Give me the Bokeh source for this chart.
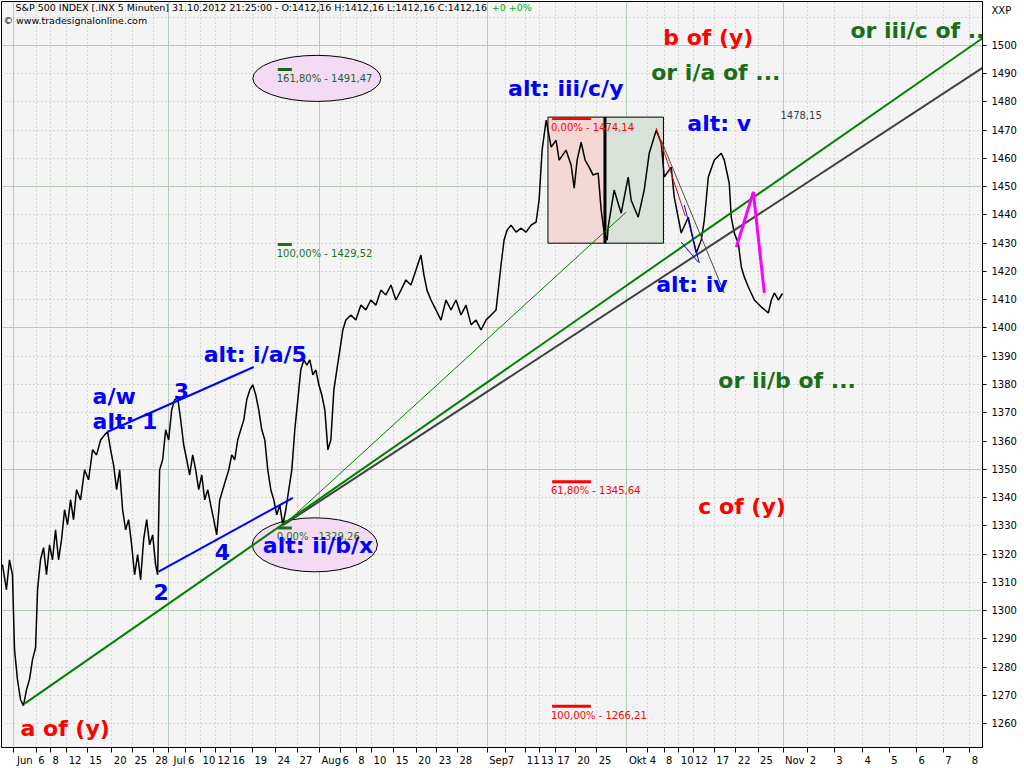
from bokeh.plotting import figure
from bokeh.models import Range1d, FixedTicker, Grid, Label
from bokeh.embed import file_html
from bokeh.resources import INLINE

# ---------------- data ----------------
# x = session position (trading days counted from 1 Jun 2012), y = S&P 500 level
price_t = [-1.49, -0.95, -0.54, -0.14, 0.14, 0.54, 0.95, 1.35, 1.76, 2.16, 2.57, 2.98, 3.25, 3.65, 4.06,
           4.46, 4.87, 5.27, 5.68, 6.09, 6.49, 6.90, 7.30, 7.71, 8.11, 8.52, 9.06, 9.60, 10.14, 10.68,
           11.22, 11.77, 12.31, 12.71, 13.12, 13.52, 13.93, 14.34, 14.74, 15.15, 15.55, 15.96, 16.36,
           16.77, 17.17, 17.58, 17.99, 18.39, 18.80, 19.20, 19.47, 19.74, 20.15, 20.56, 20.96, 21.37,
           21.77, 22.18, 22.59, 22.99, 23.40, 23.80, 24.21, 24.61, 25.02, 25.43, 25.83, 26.24, 26.64,
           27.05, 27.45, 27.86, 28.27, 28.67, 29.08, 29.48, 29.89, 30.29, 30.70, 31.11, 31.51, 31.92,
           32.32, 32.73, 33.13, 33.54, 33.95, 34.35, 34.76, 35.16, 35.57, 35.97, 36.38, 36.79, 37.19,
           37.60, 38.00, 38.41, 38.81, 39.22, 39.63, 40.03, 40.44, 40.84, 41.25, 41.65, 42.06, 42.47,
           42.87, 43.28, 43.68, 44.09, 44.49, 44.90, 45.58, 46.25, 46.93, 47.60, 48.28, 48.96, 49.63,
           50.31, 50.99, 51.66, 52.34, 53.01, 53.69, 54.37, 55.04, 55.45, 55.86, 56.40, 57.07, 57.75,
           58.42, 59.10, 59.78, 60.45, 61.13, 61.81, 62.48, 63.16, 63.83, 64.51, 65.19, 65.86, 66.27,
           66.67, 67.21, 67.89, 68.57, 69.24, 69.92, 70.60, 71.00, 71.41, 71.95, 72.63, 73.30, 73.71,
           74.65, 75.33, 75.74, 76.14, 76.68, 77.22, 77.76, 78.30, 78.98, 79.39, 79.79, 80.20, 80.33,
           81.14, 82.09, 83.04, 83.44, 84.39, 85.20, 85.88, 86.83, 87.50, 87.91, 88.85, 89.26, 90.20,
           91.15, 91.83, 92.23, 92.91, 93.32, 93.86, 94.67, 95.61, 96.02, 96.69, 96.96, 97.37, 97.91,
           98.32, 98.73, 99.27, 100.08, 101.03, 101.97, 102.38, 102.79, 103.33, 103.87]
price_v = [1316.3, 1307.4, 1318.0, 1312.7, 1286.2, 1275.6, 1268.5, 1266.4, 1272.1, 1275.6, 1282.7, 1286.9,
           1307.4, 1318.0, 1322.3, 1312.7, 1323.3, 1318.0, 1328.6, 1318.0, 1325.1, 1335.7, 1330.4, 1339.2,
           1332.2, 1342.8, 1339.2, 1349.8, 1346.3, 1356.9, 1355.1, 1360.4, 1362.2, 1363.3, 1356.9, 1351.6,
           1342.8, 1349.8, 1335.7, 1328.6, 1332.2, 1323.3, 1312.7, 1319.8, 1310.9, 1325.1, 1332.2, 1323.3,
           1326.8, 1316.3, 1312.7, 1349.8, 1353.4, 1364.0, 1360.4, 1371.0, 1374.6, 1375.3, 1367.5, 1358.7,
           1353.4, 1348.0, 1355.1, 1349.8, 1342.8, 1348.0, 1339.2, 1342.8, 1337.4, 1332.2, 1326.8, 1339.2,
           1342.8, 1346.3, 1349.8, 1355.1, 1353.4, 1360.4, 1364.0, 1367.5, 1374.6, 1378.1, 1379.9, 1376.3,
           1371.0, 1364.0, 1360.4, 1349.8, 1342.8, 1339.2, 1333.9, 1337.4, 1330.4, 1335.7, 1342.8, 1349.8,
           1364.0, 1374.6, 1385.2, 1388.7, 1386.9, 1388.7, 1383.4, 1385.2, 1379.9, 1376.3, 1371.0, 1356.9,
           1360.4, 1378.1, 1385.2, 1392.2, 1399.3, 1402.8, 1404.6, 1402.8, 1408.1, 1406.4, 1409.9, 1408.1,
           1413.4, 1411.7, 1415.2, 1409.9, 1413.4, 1417.0, 1415.2, 1420.5, 1425.8, 1418.7, 1413.4, 1409.9,
           1406.4, 1402.8, 1409.9, 1406.4, 1409.9, 1404.6, 1408.1, 1401.1, 1402.8, 1399.3, 1402.8, 1404.6,
           1406.4, 1422.3, 1431.1, 1434.6, 1436.4, 1433.9, 1435.3, 1433.9, 1436.4, 1437.5, 1445.2, 1462.9,
           1473.5, 1464.0, 1466.4, 1459.4, 1462.9, 1457.6, 1449.5, 1459.4, 1465.7, 1459.4, 1456.9, 1454.1,
           1454.8, 1441.7, 1433.6, 1431.1, 1435.7, 1448.8, 1440.6, 1453.4, 1445.2, 1439.2, 1448.8, 1461.8,
           1470.0, 1465.4, 1453.4, 1456.9, 1446.3, 1433.6, 1439.2, 1431.1, 1426.5, 1431.1, 1438.2, 1453.4,
           1459.4, 1461.8, 1459.4, 1451.2, 1439.2, 1433.6, 1430.0, 1421.6, 1418.0, 1414.5, 1409.9, 1407.4,
           1405.3, 1409.9, 1412.4, 1409.9, 1412.2]

tick_labels = ["Jun", "6", "8", "12", "15", "20", "25", "28", "Jul", "6", "10", "12", "16", "19", "24", "27",
               "Aug", "6", "8", "10", "15", "20", "23", "28", "Sep", "7", "11", "13", "17", "20", "25",
               "Okt", "4", "8", "10", "12", "17", "22", "25", "Nov", "2", "3", "4", "5", "6", "7", "8"]
tick_pos = [0.0, 3.1, 5.0, 7.2, 10.0, 13.3, 16.1, 18.9, 20.9, 23.3, 25.3, 27.3, 29.3, 32.3, 35.4, 38.4,
            41.4, 44.2, 46.3, 48.4, 51.4, 54.4, 57.2, 60.0, 64.0, 66.5, 69.1, 71.0, 73.2, 75.9, 78.8,
            82.8, 85.7, 87.9, 89.9, 91.8, 94.7, 97.6, 100.6, 104.0, 107.3, 110.9, 114.7, 118.3, 122.0,
            125.6, 129.2]
month_names = ["Jun", "Jul", "Aug", "Sep", "Okt", "Nov"]
y_ticks = list(range(1260, 1510, 10))
symbol_name, symbol_level = "XXP", 1512.4

# trend lines (start/end in session position and level)
green_trend_t, green_trend_v = [1.5, 130.9], [1267.1, 1502.5]
gray_trend_t, gray_trend_v = [36.5, 130.9], [1330.4, 1492.0]
thin_green_t, thin_green_v = [36.25, 82.77], [1329.7, 1441.0]
blue_up_t, blue_up_v = [12.71, 32.46], [1363.3, 1386.2]
blue_lo_t, blue_lo_v = [19.61, 37.73], [1313.8, 1339.9]
red_thin_t, red_thin_v = [86.83, 90.75], [1470.7, 1439.6]
gray_thin_t, gray_thin_v = [87.5, 96.02], [1466.4, 1412.4]
blue_thin1_t, blue_thin1_v = [90.61, 92.64], [1443.5, 1423.0]
blue_thin2_t, blue_thin2_v = [90.2, 92.5], [1430.4, 1423.3]
magenta_t, magenta_v = [97.65, 99.94, 101.43], [1428.6, 1448.1, 1412.4]

# boxes
box_left, box_mid, box_right = 72.2, 79.9, 87.8
box_low, box_high = 1430.0, 1474.6

# ellipses (centre, width in sessions, height in points)
ell_t, ell_v = [40.98, 40.71], [1488.3, 1323.3]
ell_w, ell_h = [17.3, 16.9], [16.3, 19.1]

# fibonacci marks: level, text, x start, colour
fib_levels = [1491.47, 1429.52, 1329.26, 1474.14, 1345.64, 1266.21]
fib_texts = ["161,80% - 1491,47", "100,00% - 1429,52", "0,00% - 1329,26",
             "0,00% - 1474,14", "61,80% - 1345,64", "100,00% - 1266,21"]
fib_x0 = [35.7, 35.7, 35.7, 72.76, 72.76, 72.76]
fib_x1 = [37.6, 37.6, 37.6, 78.0, 78.0, 78.0]
fib_colors = ["#1f5f1f", "#1f6f1f", "#1f6f1f", "#ff0000", "#ff0000", "#ff0000"]

# wave labels: text, x, y, colour
RED, BLUE, DGREEN = "#ff0000", "#0000ff", "#1a6e1a"
wave_labels = [
    ("b of (y)", 87.77, 1502.8, RED),
    ("or i/a of ...", 86.15, 1490.5, DGREEN),
    ("or iii/c of ..", 113.06, 1505.3, DGREEN),
    ("alt: iii/c/y", 66.81, 1484.8, BLUE),
    ("alt: v", 91.02, 1472.4, BLUE),
    ("alt: iv", 86.83, 1415.5, BLUE),
    ("or ii/b of ...", 95.21, 1381.6, DGREEN),
    ("c of (y)", 92.51, 1336.7, RED),
    ("a of (y)", 0.95, 1258.3, RED),
    ("alt: i/a/5", 25.7, 1390.5, BLUE),
    ("a/w", 10.68, 1375.6, BLUE),
    ("alt: 1", 10.68, 1367.1, BLUE),
    ("3", 21.64, 1377.7, BLUE),
    ("2", 18.93, 1306.7, BLUE),
    ("4", 27.18, 1320.8, BLUE),
    ("alt: ii/b/x", 33.68, 1323.0, BLUE),
]

# ---------------- figure ----------------
X0, X1 = -1.62, 130.9
Y0, Y1 = 1251.6, 1515.5
W, H = 1024, 768
LEFT, TOP, RIGHT, BOTTOM = 1, 1, 42, 20

p = figure(width=W, height=H, x_range=Range1d(X0, X1), y_range=Range1d(Y0, Y1),
           output_backend="svg", toolbar_location=None, y_axis_location="right",
           min_border_left=LEFT, min_border_top=TOP, min_border_right=RIGHT, min_border_bottom=BOTTOM,
           background_fill_color="#f4f4f4", border_fill_color="white",
           outline_line_color="black", outline_line_width=1)
p.grid.visible = False

SMALL_FONT = "DejaVu Sans"
px_per_unit = (W - RIGHT - LEFT) / (X1 - X0)

# x axis: labels sit to the right of their tick mark
label_centres = [round(t + (2 + 6.2 * len(s) / 2) / px_per_unit, 3) for t, s in zip(tick_pos, tick_labels)]
xa = p.xaxis[0]
xa.ticker = FixedTicker(ticks=label_centres, minor_ticks=tick_pos)
xa.major_label_overrides = {c: s for c, s in zip(label_centres, tick_labels)}
xa.major_tick_out = 0
xa.major_tick_in = 0
xa.minor_tick_out = 5
xa.minor_tick_in = 0
xa.minor_tick_line_color = "black"
xa.axis_line_color = "black"
xa.major_label_standoff = 2
xa.major_label_text_font = SMALL_FONT
xa.major_label_text_font_size = "10px"
xa.major_label_text_color = "black"

# y axis on the right; the symbol name sits at the top of the scale
ya = p.yaxis[0]
ya.ticker = FixedTicker(ticks=y_ticks + [symbol_level], minor_ticks=y_ticks)
ya.major_label_overrides = {symbol_level: symbol_name}
ya.major_tick_out = 0
ya.major_tick_in = 0
ya.minor_tick_out = 4
ya.minor_tick_in = 0
ya.minor_tick_line_color = "black"
ya.axis_line_color = "black"
ya.major_label_standoff = 5
ya.major_label_text_font = SMALL_FONT
ya.major_label_text_font_size = "10px"
ya.major_label_text_color = "black"

# grids
month_pos = [t for t, s in zip(tick_pos, tick_labels) if s in month_names]
day_pos = [t for t, s in zip(tick_pos, tick_labels) if s not in month_names]
y_major = [v for v in y_ticks if v % 50 == 0]
y_minor = [v for v in y_ticks + [1510] if v % 50 != 0]
GRID_SOLID, GRID_DOT = "#b6cab6", "#a6c0a6"
p.add_layout(Grid(dimension=0, ticker=FixedTicker(ticks=day_pos), grid_line_color=GRID_DOT, grid_line_dash="1 3"))
p.add_layout(Grid(dimension=1, ticker=FixedTicker(ticks=y_minor), grid_line_color=GRID_DOT, grid_line_dash="1 3"))
p.add_layout(Grid(dimension=0, ticker=FixedTicker(ticks=month_pos), grid_line_color=GRID_SOLID))
p.add_layout(Grid(dimension=1, ticker=FixedTicker(ticks=y_major), grid_line_color=GRID_SOLID))

# ellipses and boxes
p.ellipse(x=ell_t, y=ell_v, width=ell_w, height=ell_h, fill_color="#f3dcf3", line_color="black", line_width=1)
p.quad(left=[box_left], right=[box_mid], bottom=[box_low], top=[box_high],
       fill_color="#f4d8d6", line_color="black", line_width=1)
p.quad(left=[box_mid], right=[box_right], bottom=[box_low], top=[box_high],
       fill_color="#d8e2d8", line_color="black", line_width=1)

# price
p.line(price_t, price_v, line_color="black", line_width=1.5)
p.segment(x0=[box_mid], y0=[box_low], x1=[box_mid], y1=[box_high], line_color="black", line_width=3)

# trend lines
p.line(thin_green_t, thin_green_v, line_color="#008000", line_width=1)
p.line(gray_trend_t, gray_trend_v, line_color="#404040", line_width=2)
p.line(green_trend_t, green_trend_v, line_color="#008000", line_width=2)
p.line(blue_up_t, blue_up_v, line_color="#0000ff", line_width=2)
p.line(blue_lo_t, blue_lo_v, line_color="#0000ff", line_width=2)
p.line(gray_thin_t, gray_thin_v, line_color="#505050", line_width=1)
p.line(red_thin_t, red_thin_v, line_color="#ff0000", line_width=1)
p.line(blue_thin1_t, blue_thin1_v, line_color="#0000ff", line_width=1)
p.line(blue_thin2_t, blue_thin2_v, line_color="#0000ff", line_width=1)
p.line(magenta_t, magenta_v, line_color="#ff00ff", line_width=3)

# fibonacci marks
p.segment(x0=fib_x0, y0=fib_levels, x1=fib_x1, y1=fib_levels, line_color=fib_colors, line_width=3)
for lvl, txt, x0, col in zip(fib_levels, fib_texts, fib_x0, fib_colors):
    p.add_layout(Label(x=x0 - 0.15, y=lvl - 1.2, text=txt, text_color=col, text_font=SMALL_FONT,
                       text_font_size="10px", text_baseline="top", text_align="left"))
p.add_layout(Label(x=103.6, y=1475.3, text="1478,15", text_color="#404040", text_font=SMALL_FONT,
                   text_font_size="10px", text_baseline="middle", text_align="left"))

# wave labels
for txt, x, y, col in wave_labels:
    p.add_layout(Label(x=x, y=y, text=txt, text_color=col, text_font="DejaVu Sans", text_font_style="bold",
                       text_font_size="22px", text_baseline="middle", text_align="left"))

# header texts
p.add_layout(Label(x=0.27, y=1513.4, text="S&P 500 INDEX [.INX  5 Minuten] 31.10.2012 21:25:00 - O:1412,16 H:1412,16 L:1412,16 C:1412,16",
                   text_color="black", text_font=SMALL_FONT, text_font_size="9.5px",
                   text_baseline="middle", text_align="left"))
p.add_layout(Label(x=64.6, y=1513.4, text="+0 +0%", text_color="#00b000", text_font=SMALL_FONT,
                   text_font_size="9.5px", text_baseline="middle", text_align="left"))
p.add_layout(Label(x=-1.35, y=1508.8, text="© www.tradesignalonline.com", text_color="black",
                   text_font=SMALL_FONT, text_font_size="9.5px", text_baseline="middle", text_align="left"))

open("out.html", "w").write(file_html(p, INLINE))
